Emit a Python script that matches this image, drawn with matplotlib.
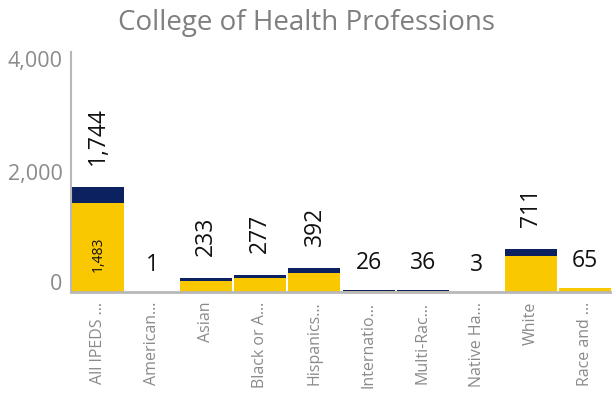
import matplotlib
matplotlib.use("Agg")
import matplotlib.pyplot as plt
import matplotlib.transforms as mtransforms

plt.rcParams['font.family'] = ['Open Sans', 'DejaVu Sans']

categories = ["All IPEDS ...", "American...", "Asian", "Black or A...", "Hispanics...",
              "Internatio...", "Multi-Rac...", "Native Ha...", "White", "Race and ..."]
totals = [1744, 1, 233, 277, 392, 26, 36, 3, 711, 65]
lower = [1483, 1, 188, 232, 322, 13, 24, 1, 600, 60]
upper = [t - l for t, l in zip(totals, lower)]
yticks = [0, 2000, 4000]
ytick_labels = ["0", "2,000", "4,000"]
title = "College of Health Professions"

YELLOW = "#F9C800"
NAVY = "#0B2160"
GRAY = "#8A8A8A"
TITLE_GRAY = "#7F7F7F"
SPINE = "#B8B8B8"

fig = plt.figure(figsize=(6.12, 3.93), dpi=100)
ax = fig.add_axes([71 / 612, 1 - 292 / 393, 1 - 71 / 612, (292 - 52) / 393])

x = range(len(categories))
ax.bar(x, lower, width=0.96, color=YELLOW, linewidth=0)
ax.bar(x, upper, bottom=lower, width=0.96, color=NAVY, linewidth=0)

ax.set_xlim(-0.5, len(categories) - 0.5)
ax.set_ylim(0, 4000)
ax.set_yticks(yticks)
ax.set_yticklabels(ytick_labels, fontsize=15.5, color=GRAY)
ax.set_xticks(list(x))
ax.set_xticklabels(categories, rotation=90, fontsize=11.5, color=GRAY, va="top", ha="center")
ax.tick_params(axis="both", length=0)
ax.tick_params(axis="y", pad=6)
ax.tick_params(axis="x", pad=7)

for side in ("top", "right"):
    ax.spines[side].set_visible(False)
ax.spines["left"].set_color(SPINE)
ax.spines["left"].set_linewidth(1.5)
ax.spines["bottom"].set_color(SPINE)
ax.spines["bottom"].set_linewidth(2)

# nudge outer y labels so they sit inside the plot band
ylabels = ax.get_yticklabels()
ylabels[0].set_transform(ylabels[0].get_transform() +
                         mtransforms.ScaledTranslation(0, 10 / 100, fig.dpi_scale_trans))
ylabels[-1].set_transform(ylabels[-1].get_transform() +
                          mtransforms.ScaledTranslation(0, -7 / 100, fig.dpi_scale_trans))

# total labels above each bar
for i, t in enumerate(totals):
    text = f"{t:,}"
    if t >= 100:
        ax.annotate(text, (i, t), xytext=(0, 16), textcoords="offset points",
                    rotation=90, ha="center", va="bottom", fontsize=16.5, color="#111111")
    else:
        ax.annotate(text, (i, t), xytext=(0, 11), textcoords="offset points",
                    ha="center", va="bottom", fontsize=16.5, color="#111111")

# value of the lower segment inside the first bar
ax.text(0, lower[0] * 0.42, f"{lower[0]:,}", rotation=90, ha="center", va="center",
        fontsize=10, color="#111111")

fig.text(0.5, 1 - 23 / 393, title, ha="center", va="center", fontsize=20, color=TITLE_GRAY)

fig.savefig("out.png", dpi=100)
